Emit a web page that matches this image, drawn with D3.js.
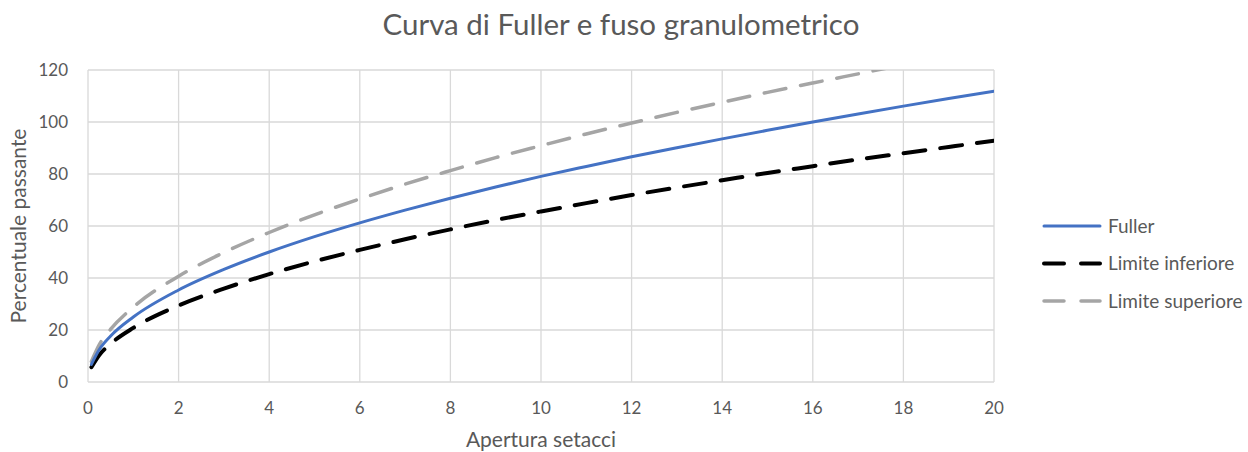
<!DOCTYPE html>
<html>
<head>
<meta charset="utf-8">
<script src="https://cdn.jsdelivr.net/npm/d3@7"></script>
<style>
  body { margin: 0; background: #fff; }
  text { font-family: Lato, "Open Sans", sans-serif; fill: #595959; }
</style>
</head>
<body>
<script>
// aperture (mm) and percent passing
const apertura = [0.075, 0.25, 0.5, 1, 2, 3, 4, 5, 6, 7, 8, 9, 10, 11, 12, 13, 14, 15, 16, 17, 18, 19, 20];
const fuller = [6.8, 12.5, 17.7, 25, 35.4, 43.3, 50, 55.9, 61.2, 66.1, 70.7, 75, 79.1, 82.9, 86.6, 90.1, 93.5, 96.8, 100, 103.1, 106.1, 109, 111.8];
const limInf = [5.7, 10.4, 14.7, 20.8, 29.4, 35.9, 41.5, 46.4, 50.8, 54.9, 58.7, 62.3, 65.6, 68.8, 71.9, 74.8, 77.6, 80.4, 83, 85.6, 88, 90.4, 92.8];
const limSup = [7.9, 14.4, 20.3, 28.8, 40.7, 49.8, 57.5, 64.3, 70.4, 76.1, 81.3, 86.3, 90.9, 95.4, 99.6, 103.7, 107.6, 111.4, 115, 118.5, 122, 125.4, 128.6];
const xTicks = [0, 2, 4, 6, 8, 10, 12, 14, 16, 18, 20];
const yTicks = [0, 20, 40, 60, 80, 100, 120];
const seriesNames = ["Fuller", "Limite inferiore", "Limite superiore"];

const W = 1248, H = 452;
const m = { left: 88, right: 254, top: 70, bottom: 70 };

const svg = d3.select("body").append("svg")
  .attr("width", W).attr("height", H);

const x = d3.scaleLinear().domain([0, 20]).range([m.left, W - m.right]);
const y = d3.scaleLinear().domain([0, 120]).range([H - m.bottom, m.top]);

// gridlines
svg.append("g").selectAll("line.h").data(yTicks).join("line")
  .attr("x1", x(0)).attr("x2", x(20))
  .attr("y1", d => y(d)).attr("y2", d => y(d))
  .attr("stroke", "#d9d9d9").attr("stroke-width", 1.3);
svg.append("g").selectAll("line.v").data(xTicks).join("line")
  .attr("x1", d => x(d)).attr("x2", d => x(d))
  .attr("y1", y(0)).attr("y2", y(120))
  .attr("stroke", "#d9d9d9").attr("stroke-width", 1.3);

// tick labels
svg.append("g").selectAll("text").data(yTicks).join("text")
  .attr("x", x(0) - 20).attr("y", d => y(d)).attr("dy", "0.35em")
  .attr("text-anchor", "end").attr("font-size", 17)
  .text(d => d);
svg.append("g").selectAll("text").data(xTicks).join("text")
  .attr("x", d => x(d)).attr("y", y(0) + 26).attr("dy", "0.35em")
  .attr("text-anchor", "middle").attr("font-size", 17)
  .text(d => d);

// titles
svg.append("text").attr("x", 621).attr("y", 25).attr("dy", "0.35em")
  .attr("text-anchor", "middle").attr("font-size", 29.5)
  .text("Curva di Fuller e fuso granulometrico");
svg.append("text").attr("x", x(10)).attr("y", 440).attr("dy", "0.35em")
  .attr("text-anchor", "middle").attr("font-size", 21)
  .text("Apertura setacci");
svg.append("text")
  .attr("transform", `translate(19,${(y(0) + y(120)) / 2}) rotate(-90)`)
  .attr("dy", "0.35em").attr("text-anchor", "middle").attr("font-size", 21)
  .text("Percentuale passante");

// clip
svg.append("clipPath").attr("id", "clip").append("rect")
  .attr("x", x(0)).attr("y", y(120)).attr("width", x(20) - x(0)).attr("height", y(0) - y(120));

const line = d3.line().x(d => x(d[0])).y(d => y(d[1])).curve(d3.curveMonotoneX);
const styles = [
  { color: "#4472C4", width: 3, dash: null },
  { color: "#000000", width: 4, dash: "22,15" },
  { color: "#A5A5A5", width: 3.5, dash: "22,15" }
];
const all = [fuller, limInf, limSup];

const g = svg.append("g").attr("clip-path", "url(#clip)");
[2, 1, 0].forEach(i => {
  g.append("path")
    .datum(d3.zip(apertura, all[i]))
    .attr("fill", "none")
    .attr("stroke", styles[i].color)
    .attr("stroke-width", styles[i].width)
    .attr("stroke-linecap", "round")
    .attr("stroke-dasharray", styles[i].dash)
    .attr("d", line);
});

// legend
const lg = svg.append("g").selectAll("g").data(seriesNames).join("g")
  .attr("transform", (d, i) => `translate(1044,${226 + i * 37.5})`);
lg.append("line").attr("x1", 0).attr("x2", 56)
  .attr("stroke", (d, i) => styles[i].color)
  .attr("stroke-width", (d, i) => styles[i].width)
  .attr("stroke-linecap", "round")
  .attr("stroke-dasharray", (d, i) => styles[i].dash ? "20,17" : null);
lg.append("text").attr("x", 64).attr("dy", "0.35em").attr("font-size", 19)
  .text(d => d);
</script>
</body>
</html>
